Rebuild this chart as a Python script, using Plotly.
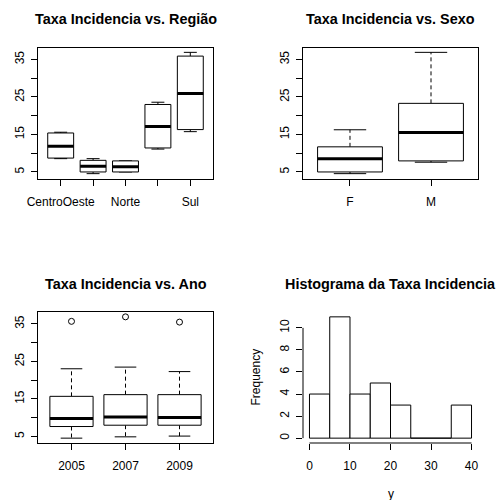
import plotly.graph_objects as go

FONT = "Liberation Sans, Arial, Helvetica, sans-serif"

# ---- Panel 1: Taxa Incidencia vs. Região ----
regiao_labels = ["CentroOeste", "Nordeste", "Norte", "Sudeste", "Sul"]
regiao_shown = ["CentroOeste", "", "Norte", "", "Sul"]
regiao_lo = [8.55, 4.55, 5.0, 11.1, 15.75]
regiao_q1 = [8.7, 5.0, 5.0, 11.4, 16.3]
regiao_med = [11.85, 6.5, 6.4, 17.1, 25.9]
regiao_q3 = [15.4, 8.1, 7.95, 23.0, 35.9]
regiao_hi = [15.6, 8.55, 7.95, 23.6, 36.9]

# ---- Panel 2: Taxa Incidencia vs. Sexo ----
sexo_labels = ["F", "M"]
sexo_lo = [4.55, 7.6]
sexo_q1 = [5.0, 7.95]
sexo_med = [8.55, 15.5]
sexo_q3 = [11.7, 23.3]
sexo_hi = [16.25, 36.9]

# ---- Panel 3: Taxa Incidencia vs. Ano ----
ano_labels = ["2005", "2007", "2009"]
ano_lo = [4.55, 4.9, 5.1]
ano_q1 = [7.65, 8.0, 8.0]
ano_med = [9.8, 10.2, 10.05]
ano_q3 = [15.7, 16.15, 16.15]
ano_hi = [23.05, 23.5, 22.3]
ano_out = [35.7, 36.9, 35.5]

# ---- Panel 4: Histograma ----
hist_edges = [0, 5, 10, 15, 20, 25, 30, 35, 40]
hist_counts = [4, 11, 4, 5, 3, 0, 0, 3]

box_ticks = [5, 10, 15, 20, 25, 30, 35]
box_ticktext = ["5", "", "15", "", "25", "", "35"]

W, H = 496, 500
dom_x = [[38 / W, 213 / W], [303 / W, 478 / W]]
dom_y_top = [1 - 178.5 / H, 1 - 47.5 / H]
dom_y_bot = [1 - 443 / H, 1 - 312 / H]

fig = go.Figure()

LINE = "#000000"


def add_boxes(xa, ya, lo, q1, med, q3, hi):
    n = len(med)
    pos = list(range(1, n + 1))
    # whiskers (dashed)
    wx, wy = [], []
    for p, l, a, b, h in zip(pos, lo, q1, q3, hi):
        if h > b:
            wx += [p, p, None]
            wy += [b, h, None]
        if l < a:
            wx += [p, p, None]
            wy += [a, l, None]
    fig.add_trace(go.Scatter(x=wx, y=wy, mode="lines", xaxis=xa, yaxis=ya,
                             line=dict(color=LINE, width=1, dash="4px,3px"),
                             hoverinfo="skip"))
    # staples
    sx, sy = [], []
    for p, l, h in zip(pos, lo, hi):
        sx += [p - 0.2, p + 0.2, None, p - 0.2, p + 0.2, None]
        sy += [l, l, None, h, h, None]
    fig.add_trace(go.Scatter(x=sx, y=sy, mode="lines", xaxis=xa, yaxis=ya,
                             line=dict(color=LINE, width=1), hoverinfo="skip"))
    # boxes
    for p, a, b in zip(pos, q1, q3):
        fig.add_trace(go.Scatter(x=[p - 0.4, p + 0.4, p + 0.4, p - 0.4, p - 0.4],
                                 y=[a, a, b, b, a], mode="lines", fill="toself",
                                 fillcolor="white", xaxis=xa, yaxis=ya,
                                 line=dict(color=LINE, width=1), hoverinfo="skip"))
    # medians
    mx, my = [], []
    for p, m in zip(pos, med):
        mx += [p - 0.4, p + 0.4, None]
        my += [m, m, None]
    fig.add_trace(go.Scatter(x=mx, y=my, mode="lines", xaxis=xa, yaxis=ya,
                             line=dict(color=LINE, width=3), hoverinfo="skip"))


add_boxes("x", "y", regiao_lo, regiao_q1, regiao_med, regiao_q3, regiao_hi)
add_boxes("x2", "y2", sexo_lo, sexo_q1, sexo_med, sexo_q3, sexo_hi)
add_boxes("x3", "y3", ano_lo, ano_q1, ano_med, ano_q3, ano_hi)
fig.add_trace(go.Scatter(x=list(range(1, len(ano_out) + 1)), y=ano_out, mode="markers",
                         xaxis="x3", yaxis="y3",
                         marker=dict(symbol="circle-open", size=6, color=LINE,
                                     line=dict(width=1, color=LINE)),
                         hoverinfo="skip"))

# histogram bars
centers = [(a + b) / 2 for a, b in zip(hist_edges[:-1], hist_edges[1:])]
widths = [b - a for a, b in zip(hist_edges[:-1], hist_edges[1:])]
fig.add_trace(go.Bar(x=centers, y=hist_counts, width=widths, xaxis="x4", yaxis="y4",
                     marker=dict(color="white", line=dict(color=LINE, width=1)),
                     hoverinfo="skip"))


def rng(lo, hi):
    s = hi - lo
    return [lo - 0.04 * s, hi + 0.04 * s]


def xr(n):
    return rng(0.5, n + 0.5)


tickfont = dict(family=FONT, size=12, color="black")
common = dict(showgrid=False, zeroline=False, ticks="outside", ticklen=6,
              tickcolor=LINE, tickwidth=1, tickfont=tickfont, linecolor=LINE,
              linewidth=1, automargin=False)

y1r = rng(min(regiao_lo), max(regiao_hi))
y2r = rng(min(sexo_lo), max(sexo_hi))
y3r = rng(min(ano_lo), max(ano_hi + ano_out))
x4r = rng(hist_edges[0], hist_edges[-1])
y4r = rng(0, max(hist_counts))

fig.update_layout(
    template="none",
    width=W, height=H, margin=dict(l=0, r=0, t=0, b=0, pad=0),
    paper_bgcolor="white", plot_bgcolor="white", showlegend=False,
    font=dict(family=FONT, color="black"),
    xaxis=dict(domain=dom_x[0], anchor="y", range=xr(5), tickvals=[1, 2, 3, 4, 5],
               ticktext=regiao_shown, showline=True, mirror=True,
               ticklabelstandoff=6, **common),
    yaxis=dict(domain=dom_y_top, anchor="x", range=y1r, tickvals=box_ticks,
               ticktext=box_ticktext, tickangle=-90, showline=True, mirror=True,
               ticklabelstandoff=2, **common),
    xaxis2=dict(domain=dom_x[1], anchor="y2", range=xr(2), tickvals=[1, 2],
                ticktext=sexo_labels, showline=True, mirror=True,
                ticklabelstandoff=6, **common),
    yaxis2=dict(domain=dom_y_top, anchor="x2", range=y2r, tickvals=box_ticks,
                ticktext=box_ticktext, tickangle=-90, showline=True, mirror=True,
                ticklabelstandoff=2, **common),
    xaxis3=dict(domain=dom_x[0], anchor="y3", range=xr(3), tickvals=[1, 2, 3],
                ticktext=ano_labels, showline=True, mirror=True,
                ticklabelstandoff=6, **common),
    yaxis3=dict(domain=dom_y_bot, anchor="x3", range=y3r, tickvals=box_ticks,
                ticktext=box_ticktext, tickangle=-90, showline=True, mirror=True,
                ticklabelstandoff=2, **common),
    xaxis4=dict(domain=dom_x[1], anchor="y4", range=x4r, tickvals=[0, 10, 20, 30, 40],
                showline=False, ticklabelstandoff=6, **common),
    yaxis4=dict(domain=dom_y_bot, anchor="x4", range=y4r, tickvals=[0, 2, 4, 6, 8, 10],
                tickangle=-90, showline=False, ticklabelstandoff=2, **common),
)

# histogram axis lines spanning only the tick range
fig.add_shape(type="line", xref="x4", yref="y4 domain", x0=0, x1=40, y0=0, y1=0,
              line=dict(color=LINE, width=1))
fig.add_shape(type="line", xref="x4 domain", yref="y4", x0=0, x1=0, y0=0, y1=10,
              line=dict(color=LINE, width=1))

titles = [
    ("Taxa Incidencia vs. Região", dom_x[0], 19),
    ("Taxa Incidencia vs. Sexo", dom_x[1], 19),
    ("Taxa Incidencia vs. Ano", dom_x[0], 283.5),
    ("Histograma da Taxa Incidencia", dom_x[1], 283.5),
]
for text, dx, py in titles:
    fig.add_annotation(text=text, xref="paper", yref="paper", x=(dx[0] + dx[1]) / 2,
                       y=1 - py / H, xanchor="center", yanchor="middle", showarrow=False,
                       font=dict(family=FONT, size=14.4, color="black", weight="bold"))

fig.add_annotation(text="Frequency", xref="paper", yref="paper", x=255 / W,
                   y=1 - 377.5 / H, textangle=-90, xanchor="center", yanchor="middle",
                   showarrow=False, font=dict(family=FONT, size=12, color="black"))
fig.add_annotation(text="y", xref="paper", yref="paper", x=(dom_x[1][0] + dom_x[1][1]) / 2,
                   y=1 - 494 / H, xanchor="center", yanchor="middle",
                   showarrow=False, font=dict(family=FONT, size=12, color="black"))

fig.write_html("out.html", config={"displayModeBar": False, "staticPlot": True},
               post_script="document.body.style.margin='0';document.body.style.padding='0';"
                           "document.documentElement.style.overflow='hidden';")
